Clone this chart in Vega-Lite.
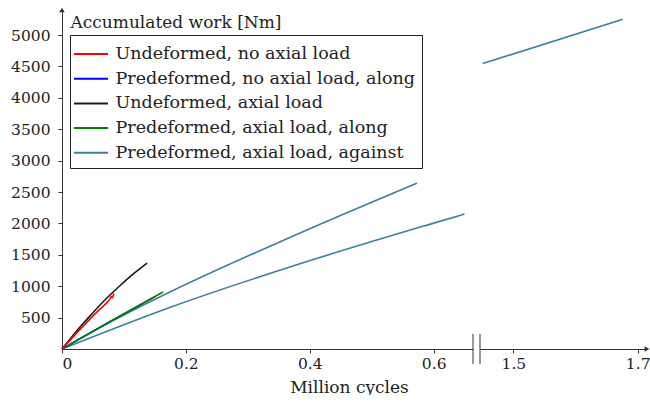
{
  "$schema": "https://vega.github.io/schema/vega-lite/v6.json",
  "background": "white",
  "padding": {"left": 10, "top": 7, "right": 0, "bottom": 0},
  "spacing": 7,
  "bounds": "flush",
  "config": {
    "view": {"stroke": null},
    "font": "DejaVu Serif",
    "axis": {
      "grid": false,
      "domainColor": "#333333",
      "domainWidth": 1,
      "tickColor": "#333333",
      "tickSize": 4,
      "labelColor": "#222222",
      "titleColor": "#222222",
      "labelFont": "DejaVu Serif",
      "titleFont": "DejaVu Serif",
      "labelFontSize": 15.5,
      "titleFontSize": 17,
      "titleFontWeight": "normal",
      "labelOverlap": false
    }
  },
  "resolve": {"scale": {"x": "independent", "y": "independent", "color": "independent"}},
  "datasets": {
    "curves": [
      {"series": "Predeformed, axial load, against", "run": "1", "x": 0, "y": 0},
      {"series": "Predeformed, axial load, against", "run": "1", "x": 0.08, "y": 440},
      {"series": "Predeformed, axial load, against", "run": "1", "x": 0.175, "y": 912},
      {"series": "Predeformed, axial load, against", "run": "1", "x": 0.374, "y": 1804},
      {"series": "Predeformed, axial load, against", "run": "1", "x": 0.573, "y": 2642},
      {"series": "Predeformed, axial load, against", "run": "2", "x": 0, "y": 0},
      {"series": "Predeformed, axial load, against", "run": "2", "x": 0.175, "y": 665},
      {"series": "Predeformed, axial load, against", "run": "2", "x": 0.374, "y": 1326},
      {"series": "Predeformed, axial load, against", "run": "2", "x": 0.5947, "y": 1989},
      {"series": "Predeformed, axial load, against", "run": "2", "x": 0.6497, "y": 2149},
      {"series": "Predeformed, axial load, against", "run": "2", "x": 1.4507, "y": 4547},
      {"series": "Predeformed, axial load, against", "run": "2", "x": 1.6762, "y": 5254},
      {"series": "Predeformed, no axial load, along", "run": "1", "x": 0, "y": 0},
      {"series": "Predeformed, no axial load, along", "run": "1", "x": 0.05, "y": 285},
      {"series": "Predeformed, no axial load, along", "run": "1", "x": 0.0944, "y": 528},
      {"series": "Predeformed, no axial load, along", "run": "1", "x": 0.15, "y": 835},
      {"series": "Predeformed, axial load, along", "run": "1", "x": 0, "y": 0},
      {"series": "Predeformed, axial load, along", "run": "1", "x": 0.0944, "y": 530},
      {"series": "Predeformed, axial load, along", "run": "1", "x": 0.1632, "y": 908},
      {"series": "Undeformed, axial load", "run": "1", "x": 0, "y": 0},
      {"series": "Undeformed, axial load", "run": "1", "x": 0.023, "y": 280},
      {"series": "Undeformed, axial load", "run": "1", "x": 0.046, "y": 535},
      {"series": "Undeformed, axial load", "run": "1", "x": 0.07, "y": 788},
      {"series": "Undeformed, axial load", "run": "1", "x": 0.0944, "y": 1015},
      {"series": "Undeformed, axial load", "run": "1", "x": 0.116, "y": 1203},
      {"series": "Undeformed, axial load", "run": "1", "x": 0.1374, "y": 1369},
      {"series": "Undeformed, no axial load", "run": "1", "x": 0, "y": 0},
      {"series": "Undeformed, no axial load", "run": "1", "x": 0.03, "y": 320},
      {"series": "Undeformed, no axial load", "run": "1", "x": 0.055, "y": 575},
      {"series": "Undeformed, no axial load", "run": "1", "x": 0.072, "y": 735},
      {"series": "Undeformed, no axial load", "run": "1", "x": 0.077, "y": 790},
      {"series": "Undeformed, no axial load", "run": "1", "x": 0.0795, "y": 835},
      {"series": "Undeformed, no axial load", "run": "1", "x": 0.081, "y": 815},
      {"series": "Undeformed, no axial load", "run": "1", "x": 0.0836, "y": 885}
    ]
  },
  "hconcat": [
    {
      "width": 411,
      "height": 339,
      "layer": [
        {
          "data": {"name": "curves"},
          "transform": [{"filter": "datum.x < 1 && (datum.series == 'Predeformed, axial load, against' || datum.series == 'Predeformed, no axial load, along')"}],
          "mark": {"type": "line", "strokeWidth": 1.6, "interpolate": "monotone"},
          "encoding": {
            "x": {"field": "x", "type": "quantitative",
              "scale": {"domain": [0, 0.6635], "nice": false, "zero": false},
              "axis": {"values": [0, 0.2, 0.4, 0.6], "tickCount": 12, "format": "~g", "title": "Million cycles",
                "titleX": 287, "titleY": 43, "titleBaseline": "alphabetic", "titleAlign": "center",
                "labelPadding": 3, "tickSize": 4, "labelOverlap": false}},
            "y": {"field": "y", "type": "quantitative",
              "scale": {"domain": [0, 5400], "nice": false},
              "axis": {"values": [500, 1000, 1500, 2000, 2500, 3000, 3500, 4000, 4500, 5000], "tickCount": 20, "format": "d",
                "title": "Accumulated work [Nm]", "titleAngle": 0, "titleX": 8, "titleY": 17,
                "titleAlign": "left", "titleBaseline": "alphabetic", "labelPadding": 8, "labelOverlap": false}},
            "color": {"field": "series", "type": "nominal",
              "scale": {"domain": ["Undeformed, no axial load", "Predeformed, no axial load, along", "Undeformed, axial load", "Predeformed, axial load, along", "Predeformed, axial load, against"],
                "range": ["#ff0000", "#0000ff", "#1a1a1a", "#008000", "#3d7f9b"]},
              "legend": {"orient": "none", "legendX": 8, "legendY": 25, "title": null,
                "symbolType": "M-1.48,0H1.48", "symbolSize": 529, "symbolStrokeWidth": 2,
                "symbolOffset": 2,
                "labelFont": "DejaVu Serif", "labelFontSize": 17.5, "labelColor": "#222222",
                "labelLimit": 500, "labelOffset": 12, "rowPadding": 3.7, "padding": 6.5,
                "strokeColor": "#222222", "fillColor": "white"}},
            "detail": {"field": "run"}
          }
        },
        {
          "data": {"name": "curves"},
          "transform": [{"filter": "datum.x < 1 && (datum.series == 'Predeformed, axial load, along' || datum.series == 'Undeformed, axial load' || datum.series == 'Undeformed, no axial load')"}],
          "mark": {"type": "line", "strokeWidth": 1.6, "interpolate": "monotone"},
          "encoding": {
            "x": {"field": "x", "type": "quantitative"},
            "y": {"field": "y", "type": "quantitative"},
            "color": {"field": "series", "type": "nominal"},
            "detail": {"field": "run"}
          }
        },
        {
          "data": {"values": [{}]},
          "mark": {"type": "rule", "color": "#333333", "strokeWidth": 1},
          "encoding": {"x": {"datum": 0.6635}, "y": {"datum": -240}, "y2": {"datum": 240}}
        },
        {
          "data": {"values": [{}]},
          "mark": {"type": "point", "shape": "triangle-up", "filled": true, "size": 30, "color": "#333333", "opacity": 1},
          "encoding": {"x": {"datum": 0}, "y": {"datum": 5400}}
        }
      ]
    },
    {
      "width": 167,
      "height": 339,
      "layer": [
        {
          "data": {"name": "curves"},
          "transform": [{"filter": "datum.x > 1"}],
          "mark": {"type": "line", "strokeWidth": 1.6, "color": "#3d7f9b"},
          "encoding": {
            "x": {"field": "x", "type": "quantitative",
              "scale": {"domain": [1.4463, 1.715], "nice": false, "zero": false},
              "axis": {"values": [1.5, 1.7], "tickCount": 12, "format": "~g", "title": null, "labelPadding": 3, "tickSize": 4, "labelOverlap": false}},
            "y": {"field": "y", "type": "quantitative",
              "scale": {"domain": [0, 5400], "nice": false}, "axis": null}
          }
        },
        {
          "data": {"values": [{}]},
          "mark": {"type": "rule", "color": "#333333", "strokeWidth": 1},
          "encoding": {"x": {"datum": 1.4463}, "y": {"datum": -240}, "y2": {"datum": 240}}
        },
        {
          "data": {"values": [{}]},
          "mark": {"type": "point", "shape": "triangle-right", "filled": true, "size": 30, "color": "#333333", "opacity": 1},
          "encoding": {"x": {"datum": 1.715}, "y": {"datum": 0}}
        }
      ]
    }
  ]
}
